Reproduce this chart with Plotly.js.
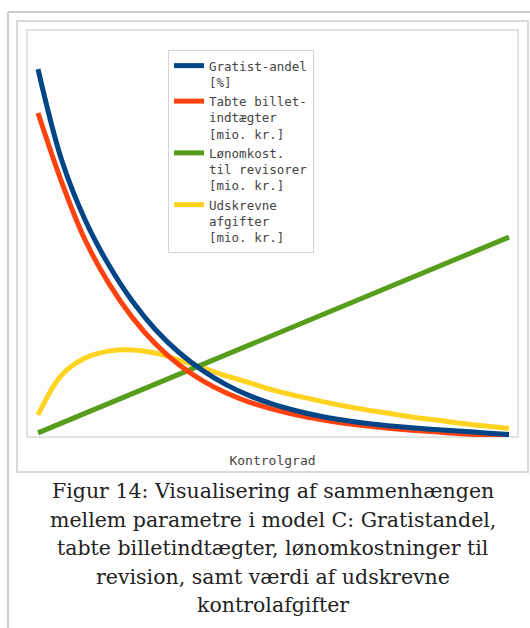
<!DOCTYPE html>
<html>
<head>
<meta charset="utf-8">
<script src="https://cdn.plot.ly/plotly-3.0.1.min.js"></script>
<style>html,body{margin:0;padding:0;background:#fff;}#chart{width:530px;height:628px;}</style>
</head>
<body>
<div id="chart"></div>
<script>
// Kontrolgrad (x, 0..1) and the four series (relative height, % of plot height)
var kontrolgrad = [0,0.05,0.1,0.15,0.2,0.25,0.3,0.35,0.4,0.45,0.5,0.55,0.6,0.65,0.7,0.75,0.8,0.85,0.9,0.95,1.0];
var gratistAndel = [90.4,68.1,53.3,42.3,33.4,26.3,20.7,16.3,12.8,10.1,8.0,6.4,5.1,4.1,3.3,2.7,2.2,1.8,1.4,1.0,0.6];
var tabteBilletindtaegter = [79.6,62.7,48.4,37.8,29.4,22.8,17.7,13.8,10.8,8.5,6.8,5.4,4.3,3.4,2.7,2.1,1.6,1.2,0.8,0.5,0.2];
var loenomkost = [1.0,3.4,5.9,8.1,10.6,13.0,15.5,17.9,20.1,22.6,25.1,27.5,30.0,32.2,34.6,37.1,39.6,42.0,44.2,46.7,49.1];
var udskrevneAfgifter = [5.4,15.2,19.4,21.1,21.4,20.6,18.9,17.0,15.0,13.3,11.5,10.1,8.8,7.6,6.6,5.7,4.8,4.1,3.3,2.7,2.1];

var seriesNames = [
  "Gratist-andel<br>[%]",
  "Tabte billet-<br>indtægter<br>[mio. kr.]",
  "Lønomkost.<br>til revisorer<br>[mio. kr.]",
  "Udskrevne<br>afgifter<br>[mio. kr.]"
];
var xTitle = "Kontrolgrad";
var captionLines = [
  "Figur 14: Visualisering af sammenhængen",
  "mellem parametre i model C: Gratistandel,",
  "tabte billetindtægter, lønomkostninger til",
  "revision, samt værdi af udskrevne",
  "kontrolafgifter"
];

var colors = ["#004586", "#ff420e", "#579d1c", "#ffd320"];
var shapesLine = ["spline", "spline", "linear", "spline"];
var seriesData = [gratistAndel, tabteBilletindtaegter, loenomkost, udskrevneAfgifter];

// draw order: last series first so blue ends on top
var traces = [];
for (var i = seriesData.length - 1; i >= 0; i--) {
  traces.push({
    x: kontrolgrad, y: seriesData[i], name: seriesNames[i],
    type: "scatter", mode: "lines",
    line: {color: colors[i], width: 5, shape: shapesLine[i], smoothing: 1},
    hoverinfo: "skip"
  });
}

var L = 27, T = 30, PW = 491, PH = 407; // plot area in page pixels
function px(x) { return x - L; }            // page x -> pixel offset from plot left
function py(y) { return (T + PH) - y; }      // page y -> pixel offset up from plot bottom

var shapes = [
  {type: "line", xref: "paper", yref: "paper", xsizemode: "pixel", ysizemode: "pixel", xanchor: 0, yanchor: 0,
   x0: px(8), x1: px(8), y0: py(12), y1: py(628), line: {color: "#cccccc", width: 2}, layer: "below"},
  {type: "line", xref: "paper", yref: "paper", xsizemode: "pixel", ysizemode: "pixel", xanchor: 0, yanchor: 0,
   x0: px(8), x1: px(530), y0: py(12), y1: py(12), line: {color: "#cccccc", width: 2}, layer: "below"},
  {type: "rect", xref: "paper", yref: "paper", xsizemode: "pixel", ysizemode: "pixel", xanchor: 0, yanchor: 0,
   x0: px(17), x1: px(528), y0: py(21), y1: py(472), line: {color: "#d9d9d9", width: 2}, fillcolor: "#ffffff", layer: "below"},
  {type: "rect", xref: "paper", yref: "paper", xsizemode: "pixel", ysizemode: "pixel", xanchor: 0, yanchor: 0,
   x0: px(27), x1: px(518), y0: py(30), y1: py(437), line: {color: "#e3e3e3", width: 2}, fillcolor: "#fdfdfd", layer: "below"}
];

var captionY = [491, 520, 548, 577, 605];
var annotations = captionLines.map(function (t, k) {
  return {text: t, xref: "paper", yref: "paper", x: (272.5 - L) / PW, y: (T + PH - captionY[k]) / PH,
          xanchor: "center", yanchor: "middle", showarrow: false,
          font: {family: "DejaVu Serif", size: 20.5, color: "#222222"}};
});

var layout = {
  width: 530, height: 628,
  margin: {l: L, r: 530 - L - PW, t: T, b: 628 - T - PH, pad: 0},
  paper_bgcolor: "#ffffff", plot_bgcolor: "rgba(0,0,0,0)",
  showlegend: true,
  legend: {x: (168 - L) / PW, y: (T + PH - 50) / PH, xanchor: "left", yanchor: "top",
           bgcolor: "#ffffff", bordercolor: "#d4d4d4", borderwidth: 1, valign: "top",
           font: {family: "DejaVu Sans Mono", size: 12.5, color: "#444444"},
           traceorder: "reversed", itemwidth: 30, tracegroupgap: 0},
  xaxis: {range: [-0.0234, 1.0191], showgrid: false, zeroline: false, showticklabels: false, ticks: "",
          showline: false, fixedrange: true,
          title: {text: xTitle, standoff: 18, font: {family: "DejaVu Sans Mono", size: 13, color: "#444444"}}},
  yaxis: {range: [0, 100], showgrid: false, zeroline: false, showticklabels: false, ticks: "",
          showline: false, fixedrange: true},
  shapes: shapes,
  annotations: annotations
};

Plotly.newPlot("chart", traces, layout, {displayModeBar: false, staticPlot: true});
</script>
</body>
</html>
